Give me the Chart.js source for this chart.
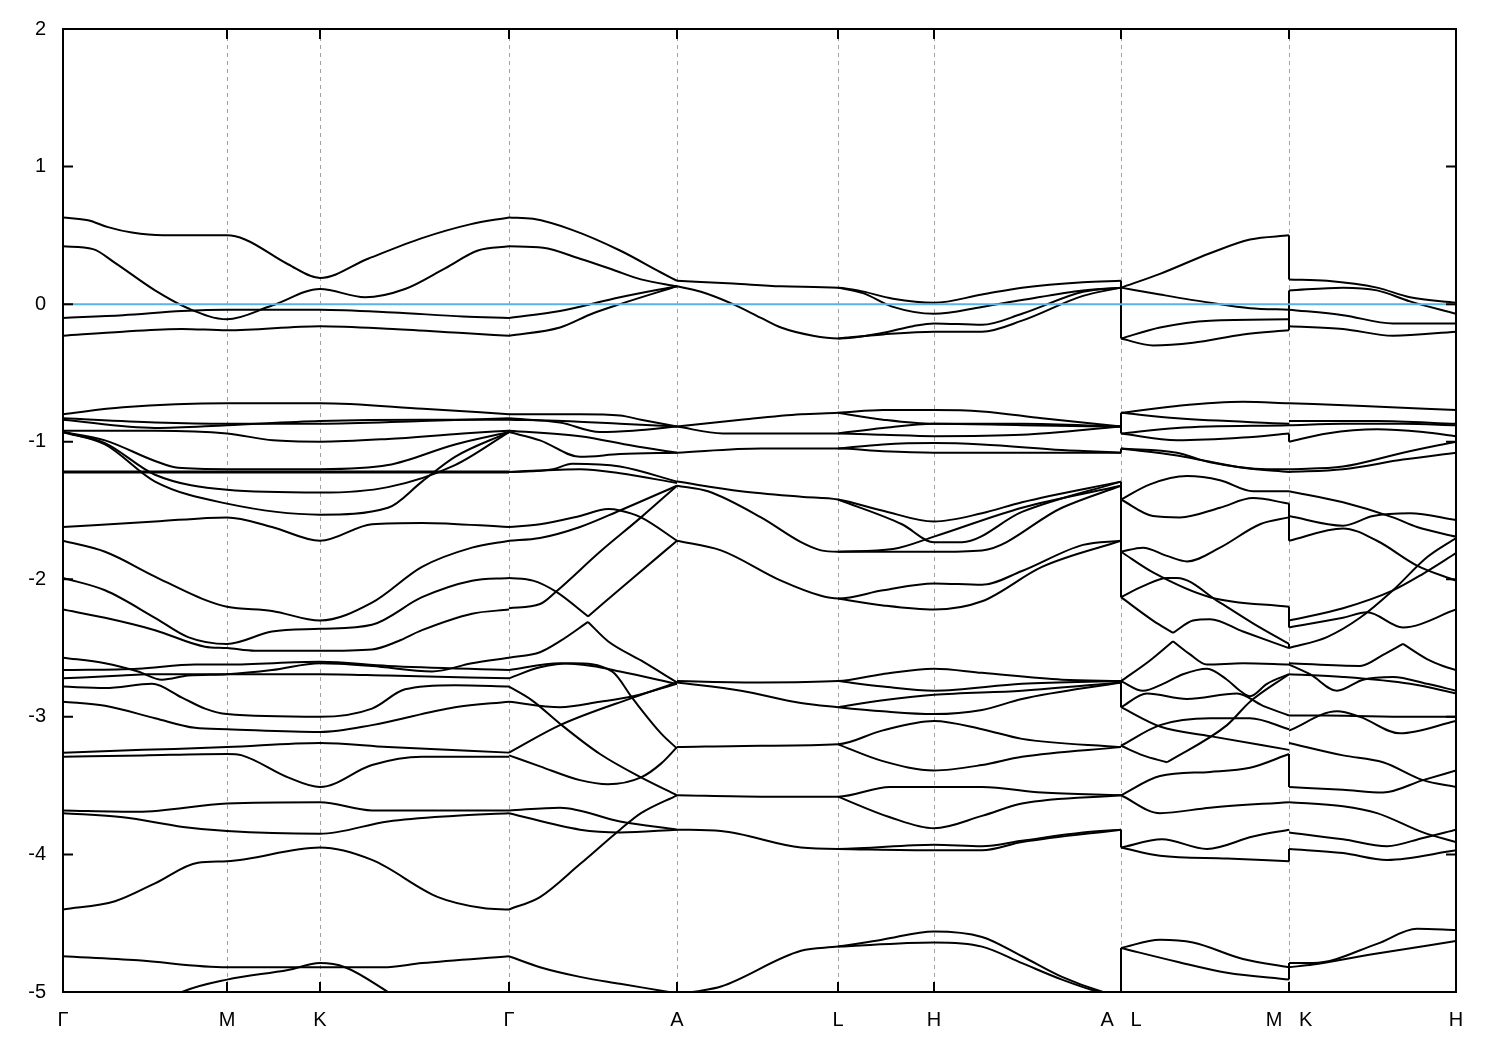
<!DOCTYPE html>
<html>
<head>
<meta charset="utf-8">
<title>Band structure</title>
<script src="https://cdn.jsdelivr.net/npm/chart.js@4.4.0/dist/chart.umd.min.js"></script>
<style>
  body { margin: 0; background: #fff; }
  canvas { display: block; }
</style>
</head>
<body>
<canvas id="bands" width="1500" height="1050"></canvas>
<script>
// k-path: high-symmetry points and their labels
const kNodes = [0, 1.64, 2.57, 4.46, 6.14, 7.75, 8.71, 10.58, 12.26, 13.93];
const kLabels = ['Γ', 'M', 'K', 'Γ', 'A', 'L', 'H', 'A   L', 'M   K', 'H'];
const yTicks = [-5, -4, -3, -2, -1, 0, 1, 2];
const fermiLevel = 0;

// Γ - M - K - Γ
const bandsGMKG = [
  [[0,0.63],[0.25,0.61],[0.45,0.56],[0.69,0.52],[1.0,0.50],[1.64,0.50],[1.82,0.47],[2.25,0.29],[2.57,0.19],[3.05,0.33],[3.59,0.48],[4.07,0.58],[4.46,0.63]],
  [[0,0.42],[0.3,0.40],[0.52,0.30],[0.92,0.10],[1.25,-0.03],[1.64,-0.11],[2.09,-0.01],[2.57,0.11],[3.02,0.05],[3.42,0.11],[3.82,0.26],[4.15,0.39],[4.46,0.42]],
  [[0,-0.10],[0.6,-0.08],[1.19,-0.05],[1.64,-0.04],[2.57,-0.04],[3.3,-0.06],[4.0,-0.09],[4.46,-0.10]],
  [[0,-0.23],[0.6,-0.20],[1.19,-0.18],[1.64,-0.19],[2.57,-0.16],[3.3,-0.18],[4.0,-0.21],[4.46,-0.23]],
  [[0,-0.80],[0.6,-0.75],[1.64,-0.72],[2.57,-0.72],[3.6,-0.76],[4.46,-0.80]],
  [[0,-0.83],[0.92,-0.86],[1.64,-0.87],[2.57,-0.87],[3.59,-0.85],[4.46,-0.83]],
  [[0,-0.84],[0.92,-0.90],[1.64,-0.88],[2.57,-0.85],[3.59,-0.84],[4.46,-0.84]],
  [[0,-0.92],[0.92,-0.92],[1.64,-0.94],[2.1,-0.99],[2.57,-1.00],[3.25,-0.98],[4.0,-0.94],[4.46,-0.92]],
  [[0,-0.93],[0.42,-0.99],[0.92,-1.14],[1.15,-1.19],[1.64,-1.20],[2.57,-1.20],[3.25,-1.17],[3.92,-1.02],[4.46,-0.93]],
  [[0,-0.93],[0.42,-1.01],[0.92,-1.24],[1.64,-1.35],[2.57,-1.37],[3.25,-1.33],[3.92,-1.17],[4.46,-0.93]],
  [[0,-0.93],[0.42,-1.02],[0.92,-1.29],[1.64,-1.45],[2.57,-1.53],[3.25,-1.48],[3.59,-1.29],[3.92,-1.11],[4.46,-0.93]],
  [[0,-1.216],[4.46,-1.216]],
  [[0,-1.224],[4.46,-1.224]],
  [[0,-1.62],[0.92,-1.58],[1.64,-1.55],[2.09,-1.62],[2.57,-1.72],[3.09,-1.60],[3.59,-1.59],[4.46,-1.62]],
  [[0,-1.72],[0.42,-1.80],[0.92,-1.98],[1.42,-2.15],[1.64,-2.20],[2.09,-2.23],[2.57,-2.30],[3.09,-2.17],[3.59,-1.91],[4.09,-1.77],[4.46,-1.72]],
  [[0,-1.99],[0.42,-2.08],[0.92,-2.28],[1.25,-2.42],[1.64,-2.47],[2.09,-2.38],[2.57,-2.36],[3.09,-2.33],[3.59,-2.13],[4.09,-2.01],[4.46,-1.99]],
  [[0,-2.22],[0.42,-2.28],[0.92,-2.37],[1.42,-2.49],[1.64,-2.50],[1.92,-2.52],[2.57,-2.52],[3.09,-2.51],[3.35,-2.45],[3.59,-2.37],[4.09,-2.25],[4.46,-2.22]],
  [[0,-2.57],[0.42,-2.61],[0.75,-2.67],[0.99,-2.73],[1.25,-2.70],[1.64,-2.69],[2.09,-2.66],[2.57,-2.61],[3.09,-2.63],[3.69,-2.67],[4.09,-2.61],[4.46,-2.57]],
  [[0,-2.66],[0.75,-2.65],[1.32,-2.62],[1.64,-2.62],[2.57,-2.60],[3.25,-2.63],[4.46,-2.66]],
  [[0,-2.72],[0.59,-2.70],[0.85,-2.69],[1.64,-2.69],[2.57,-2.69],[3.25,-2.70],[4.46,-2.72]],
  [[0,-2.78],[0.42,-2.79],[0.89,-2.76],[1.19,-2.86],[1.42,-2.94],[1.64,-2.98],[2.57,-3.00],[3.09,-2.94],[3.42,-2.80],[3.92,-2.77],[4.46,-2.78]],
  [[0,-2.89],[0.42,-2.92],[0.92,-3.01],[1.32,-3.08],[1.64,-3.09],[2.57,-3.11],[3.09,-3.06],[3.92,-2.93],[4.46,-2.89]],
  [[0,-3.26],[0.8,-3.24],[1.64,-3.22],[2.57,-3.19],[3.25,-3.22],[4.46,-3.26]],
  [[0,-3.29],[0.8,-3.28],[1.64,-3.27],[1.79,-3.28],[2.25,-3.44],[2.57,-3.51],[3.09,-3.35],[3.59,-3.29],[4.46,-3.29]],
  [[0,-3.68],[0.75,-3.69],[1.64,-3.63],[2.57,-3.62],[3.09,-3.68],[4.46,-3.68]],
  [[0,-3.70],[0.6,-3.73],[1.2,-3.80],[1.64,-3.83],[2.57,-3.85],[3.25,-3.76],[3.9,-3.72],[4.46,-3.70]],
  [[0,-4.40],[0.52,-4.34],[0.92,-4.21],[1.35,-4.06],[1.64,-4.05],[2.57,-3.95],[3.09,-4.04],[3.75,-4.31],[4.2,-4.39],[4.46,-4.40]],
  [[0,-4.74],[0.75,-4.77],[1.64,-4.82],[2.57,-4.82],[3.2,-4.82],[3.59,-4.79],[4.46,-4.74]],
  [[1.0,-5.08],[1.19,-5.0],[1.64,-4.91],[2.25,-4.84],[2.57,-4.79],[2.82,-4.82],[3.25,-5.0],[3.4,-5.07]]
];

// Γ - A
const bandsGA = [
  [[4.46,0.63],[4.7,0.62],[5.09,0.54],[5.57,0.39],[5.98,0.23],[6.14,0.17]],
  [[4.46,0.42],[4.8,0.41],[5.17,0.33],[5.5,0.25],[5.78,0.18],[6.14,0.13]],
  [[4.46,-0.10],[4.97,-0.05],[5.57,0.05],[6.14,0.13]],
  [[4.46,-0.23],[4.97,-0.17],[5.29,-0.07],[5.57,0.0],[6.14,0.13]],
  [[4.46,-0.80],[5.17,-0.80],[5.57,-0.81],[5.78,-0.84],[6.14,-0.89]],
  [[4.46,-0.83],[4.97,-0.86],[5.37,-0.93],[5.7,-0.92],[6.14,-0.89]],
  [[4.46,-0.84],[5.0,-0.85],[5.57,-0.87],[6.14,-0.89]],
  [[4.46,-0.92],[5.17,-0.96],[5.7,-1.03],[6.14,-1.08]],
  [[4.46,-0.93],[4.77,-0.99],[5.17,-1.11],[5.57,-1.09],[6.14,-1.08]],
  [[4.46,-1.22],[4.9,-1.20],[5.09,-1.16],[5.57,-1.18],[6.14,-1.29]],
  [[4.46,-1.22],[5.17,-1.20],[5.57,-1.23],[6.14,-1.30]],
  [[4.46,-1.62],[4.77,-1.60],[5.17,-1.54],[5.45,-1.49],[5.57,-1.50],[5.78,-1.55],[6.14,-1.72]],
  [[4.46,-1.72],[4.77,-1.70],[5.17,-1.62],[5.57,-1.50],[6.14,-1.32]],
  [[4.46,-1.99],[4.7,-2.01],[4.93,-2.09],[5.25,-2.27]],
  [[5.25,-2.27],[5.7,-1.99],[6.14,-1.72]],
  [[4.46,-2.21],[4.77,-2.18],[4.93,-2.09],[5.37,-1.80],[5.78,-1.55],[6.14,-1.32]],
  [[4.46,-2.57],[4.77,-2.53],[4.97,-2.45],[5.25,-2.31]],
  [[5.25,-2.31],[5.45,-2.45],[5.78,-2.59],[6.14,-2.75]],
  [[4.46,-2.66],[4.97,-2.61],[5.29,-2.63],[5.57,-2.67],[6.14,-2.76]],
  [[4.46,-2.72],[4.77,-2.64],[5.09,-2.61],[5.49,-2.67],[5.70,-2.87],[5.98,-3.12],[6.14,-3.23]],
  [[4.46,-2.78],[4.69,-2.88],[4.97,-3.05],[5.37,-3.27],[5.78,-3.44],[6.14,-3.57]],
  [[4.46,-2.89],[4.97,-2.93],[5.37,-2.89],[5.70,-2.85],[6.14,-2.76]],
  [[4.46,-3.26],[4.97,-3.06],[5.70,-2.86],[6.14,-2.75]],
  [[4.46,-3.28],[4.77,-3.36],[5.17,-3.46],[5.45,-3.49],[5.78,-3.44],[5.98,-3.34],[6.14,-3.22]],
  [[4.46,-3.68],[4.97,-3.66],[5.57,-3.76],[6.14,-3.82]],
  [[4.46,-3.70],[5.17,-3.82],[5.57,-3.84],[6.14,-3.82]],
  [[4.46,-4.40],[4.77,-4.31],[5.17,-4.07],[5.57,-3.82],[5.78,-3.70],[6.14,-3.57]],
  [[4.46,-4.74],[4.77,-4.82],[5.17,-4.89],[5.57,-4.94],[6.06,-5.0],[6.14,-5.01]]
];

// A - L - H - A
const bandsALHA = [
  [[6.14,0.17],[6.70,0.15],[7.18,0.13],[7.75,0.12],[7.95,0.10],[8.3,0.04],[8.71,0.01],[9.19,0.07],[9.59,0.12],[10.2,0.16],[10.58,0.17]],
  [[7.75,0.12],[8.0,0.08],[8.3,-0.02],[8.71,-0.07],[9.19,-0.02],[9.59,0.03],[10.2,0.10],[10.58,0.12]],
  [[6.14,0.13],[6.38,0.09],[6.70,0.0],[6.98,-0.10],[7.18,-0.17],[7.5,-0.23],[7.75,-0.25],[8.19,-0.21],[8.5,-0.16],[8.71,-0.14],[9.19,-0.15],[9.59,-0.07],[10.2,0.09],[10.58,0.12]],
  [[7.75,-0.25],[8.2,-0.22],[8.71,-0.20],[9.19,-0.20],[9.59,-0.12],[10.2,0.06],[10.58,0.12]],
  [[6.14,-0.89],[6.78,-0.84],[7.38,-0.80],[7.75,-0.79],[8.2,-0.77],[8.71,-0.77],[9.19,-0.78],[9.79,-0.83],[10.58,-0.89]],
  [[7.75,-0.79],[8.2,-0.84],[8.71,-0.87],[9.59,-0.87],[10.58,-0.89]],
  [[6.14,-0.89],[6.6,-0.94],[7.75,-0.94],[8.2,-0.95],[8.71,-0.96],[9.59,-0.95],[10.58,-0.89]],
  [[7.75,-0.94],[8.2,-0.90],[8.71,-0.87],[9.59,-0.88],[10.58,-0.89]],
  [[6.14,-1.08],[6.98,-1.05],[7.75,-1.05],[8.2,-1.07],[8.71,-1.08],[9.6,-1.08],[10.58,-1.08]],
  [[7.75,-1.05],[8.2,-1.02],[8.71,-1.01],[9.19,-1.02],[9.99,-1.06],[10.58,-1.08]],
  [[6.14,-1.29],[6.78,-1.36],[7.38,-1.40],[7.75,-1.42],[8.19,-1.50],[8.71,-1.58],[9.19,-1.52],[9.59,-1.44],[10.58,-1.29]],
  [[7.75,-1.42],[8.39,-1.60],[8.71,-1.73],[8.99,-1.73],[9.59,-1.51],[10.58,-1.29]],
  [[6.14,-1.32],[6.45,-1.36],[6.98,-1.55],[7.38,-1.73],[7.58,-1.79],[7.75,-1.80],[8.71,-1.80],[9.19,-1.79],[9.99,-1.48],[10.58,-1.32]],
  [[7.75,-1.80],[8.3,-1.78],[8.71,-1.69],[9.59,-1.48],[10.58,-1.32]],
  [[6.14,-1.72],[6.58,-1.79],[7.18,-2.01],[7.58,-2.12],[7.75,-2.14],[8.2,-2.08],[8.71,-2.03],[9.19,-2.04],[9.59,-1.94],[10.2,-1.75],[10.58,-1.72]],
  [[7.75,-2.14],[8.2,-2.19],[8.71,-2.22],[9.19,-2.16],[9.79,-1.91],[10.58,-1.72]],
  [[6.14,-2.74],[6.98,-2.75],[7.75,-2.74],[8.19,-2.69],[8.71,-2.65],[9.19,-2.68],[9.99,-2.73],[10.58,-2.74]],
  [[7.75,-2.74],[8.2,-2.78],[8.71,-2.81],[9.59,-2.76],[10.58,-2.74]],
  [[6.14,-2.75],[6.78,-2.81],[7.38,-2.90],[7.75,-2.93],[8.2,-2.96],[8.71,-2.98],[9.19,-2.95],[9.59,-2.87],[10.58,-2.75]],
  [[7.75,-2.93],[8.2,-2.88],[8.71,-2.84],[9.59,-2.81],[10.58,-2.75]],
  [[6.14,-3.22],[6.98,-3.21],[7.75,-3.20],[8.19,-3.10],[8.71,-3.03],[9.19,-3.09],[9.59,-3.16],[10.58,-3.22]],
  [[7.75,-3.20],[8.19,-3.32],[8.71,-3.39],[9.19,-3.35],[9.59,-3.29],[10.58,-3.22]],
  [[6.14,-3.57],[6.98,-3.58],[7.75,-3.58],[8.27,-3.51],[8.71,-3.51],[9.19,-3.51],[9.79,-3.55],[10.58,-3.57]],
  [[7.75,-3.58],[8.27,-3.73],[8.71,-3.81],[9.19,-3.72],[9.59,-3.63],[10.58,-3.57]],
  [[6.14,-3.82],[6.58,-3.83],[7.38,-3.95],[7.75,-3.96],[8.71,-3.93],[9.19,-3.94],[9.59,-3.90],[10.2,-3.84],[10.58,-3.82]],
  [[7.75,-3.96],[8.71,-3.97],[9.19,-3.97],[9.59,-3.91],[10.58,-3.82]],
  [[6.14,-5.01],[6.38,-4.99],[6.58,-4.96],[7.38,-4.70],[7.75,-4.67],[8.19,-4.62],[8.71,-4.56],[9.19,-4.60],[9.59,-4.74],[9.99,-4.89],[10.4,-5.0],[10.58,-5.03]],
  [[7.75,-4.67],[8.71,-4.64],[9.19,-4.67],[9.59,-4.79],[9.99,-4.91],[10.36,-5.0],[10.58,-5.03]]
];

// L - M
const bandsLM = [
  [[10.58,0.12],[10.97,0.22],[11.47,0.37],[11.87,0.47],[12.26,0.50]],
  [[10.58,0.12],[10.97,0.07],[11.47,0.01],[11.87,-0.03],[12.26,-0.04]],
  [[10.58,-0.25],[10.97,-0.17],[11.47,-0.12],[12.26,-0.11]],
  [[10.58,-0.25],[10.90,-0.30],[11.30,-0.28],[11.80,-0.22],[12.26,-0.19]],
  [[10.58,-0.79],[11.14,-0.74],[11.8,-0.71],[12.26,-0.72]],
  [[10.58,-0.79],[11.14,-0.83],[12.26,-0.87]],
  [[10.58,-0.94],[11.14,-0.90],[12.26,-0.88]],
  [[10.58,-0.94],[11.14,-0.99],[11.8,-0.97],[12.26,-0.94]],
  [[10.58,-1.05],[11.14,-1.08],[11.47,-1.15],[12.04,-1.20],[12.26,-1.20]],
  [[10.58,-1.05],[11.14,-1.10],[11.8,-1.19],[12.26,-1.22]],
  [[10.58,-1.42],[10.87,-1.31],[11.24,-1.25],[11.57,-1.28],[11.9,-1.36],[12.26,-1.36]],
  [[10.58,-1.42],[10.9,-1.54],[11.17,-1.55],[11.57,-1.48],[11.9,-1.41],[12.26,-1.45]],
  [[10.58,-1.80],[10.80,-1.77],[11.04,-1.83],[11.24,-1.87],[11.57,-1.77],[11.97,-1.60],[12.26,-1.55]],
  [[10.58,-1.80],[10.90,-1.95],[11.47,-2.13],[12.26,-2.20]],
  [[10.58,-2.13],[10.80,-2.05],[11.04,-1.99],[11.14,-1.99],[11.57,-2.17],[11.9,-2.32],[12.26,-2.47]],
  [[10.58,-2.13],[10.9,-2.30],[11.10,-2.39]],
  [[11.10,-2.39],[11.30,-2.30],[11.47,-2.29],[11.8,-2.38],[12.26,-2.50]],
  [[10.58,-2.74],[10.87,-2.59],[11.10,-2.45]],
  [[11.10,-2.45],[11.26,-2.54],[11.44,-2.62],[11.8,-2.61],[12.26,-2.62]],
  [[10.58,-2.74],[10.80,-2.81],[11.0,-2.76],[11.20,-2.69],[11.44,-2.65],[11.64,-2.73],[11.77,-2.81],[11.87,-2.85],[12.04,-2.76],[12.26,-2.69]],
  [[10.58,-2.93],[10.84,-2.83],[11.24,-2.87],[11.74,-2.83],[12.0,-2.92],[12.26,-2.99]],
  [[10.58,-2.93],[10.97,-3.07],[11.47,-3.14],[12.26,-3.24]],
  [[10.58,-3.21],[10.80,-3.28],[11.04,-3.33]],
  [[11.04,-3.33],[11.64,-3.06],[11.87,-2.89],[12.26,-2.69]],
  [[10.58,-3.21],[10.97,-3.06],[11.47,-3.01],[11.87,-3.01],[12.26,-3.09]],
  [[10.58,-3.57],[10.97,-3.43],[11.47,-3.40],[11.87,-3.37],[12.26,-3.27]],
  [[10.58,-3.57],[10.97,-3.70],[11.47,-3.66],[12.26,-3.62]],
  [[10.58,-3.95],[10.99,-3.89],[11.44,-3.96],[11.90,-3.87],[12.26,-3.82]],
  [[10.58,-3.95],[10.97,-4.01],[11.64,-4.03],[12.26,-4.05]],
  [[10.58,-4.68],[10.97,-4.62],[11.30,-4.64],[11.80,-4.76],[12.26,-4.82]],
  [[10.58,-4.68],[11.14,-4.78],[11.64,-4.86],[12.26,-4.91]]
];

// K - H
const bandsKH = [
  [[12.26,0.18],[12.64,0.17],[13.14,0.12],[13.47,0.05],[13.93,0.01]],
  [[12.26,0.10],[12.8,0.12],[13.14,0.10],[13.47,0.02],[13.93,-0.07]],
  [[12.26,-0.04],[12.8,-0.08],[13.30,-0.14],[13.93,-0.14]],
  [[12.26,-0.16],[12.8,-0.18],[13.30,-0.23],[13.93,-0.20]],
  [[12.26,-0.72],[13.0,-0.74],[13.93,-0.77]],
  [[12.26,-0.85],[13.14,-0.85],[13.93,-0.87]],
  [[12.26,-0.88],[12.8,-0.87],[13.4,-0.87],[13.93,-0.88]],
  [[12.26,-1.00],[12.64,-0.94],[13.14,-0.91],[13.6,-0.93],[13.93,-0.96]],
  [[12.26,-1.20],[12.8,-1.18],[13.4,-1.08],[13.93,-1.00]],
  [[12.26,-1.22],[12.8,-1.20],[13.4,-1.13],[13.93,-1.08]],
  [[12.26,-1.36],[12.8,-1.44],[13.3,-1.55],[13.54,-1.62],[13.93,-1.69]],
  [[12.26,-1.54],[12.8,-1.61],[13.1,-1.54],[13.47,-1.52],[13.93,-1.57]],
  [[12.26,-1.72],[12.8,-1.63],[13.14,-1.72],[13.54,-1.90],[13.93,-2.01]],
  [[12.26,-2.30],[12.8,-2.21],[13.30,-2.08],[13.6,-1.96],[13.93,-1.81]],
  [[12.26,-2.35],[12.8,-2.28],[13.04,-2.24],[13.40,-2.35],[13.93,-2.22]],
  [[12.26,-2.50],[12.64,-2.42],[12.97,-2.28],[13.30,-2.08],[13.64,-1.84],[13.93,-1.70]],
  [[12.26,-2.61],[12.97,-2.63],[13.20,-2.55],[13.40,-2.47]],
  [[13.40,-2.47],[13.64,-2.58],[13.80,-2.63],[13.93,-2.66]],
  [[12.26,-2.62],[12.47,-2.69],[12.74,-2.81],[13.0,-2.73],[13.3,-2.71],[13.64,-2.76],[13.93,-2.81]],
  [[12.26,-2.69],[12.8,-2.71],[13.47,-2.76],[13.93,-2.83]],
  [[12.26,-2.99],[12.64,-2.99],[13.47,-3.00],[13.93,-3.00]],
  [[12.26,-3.10],[12.74,-2.96],[12.97,-3.00],[13.37,-3.12],[13.93,-3.03]],
  [[12.26,-3.19],[12.80,-3.28],[13.20,-3.33],[13.60,-3.46],[13.93,-3.51]],
  [[12.26,-3.51],[12.80,-3.53],[13.20,-3.55],[13.60,-3.46],[13.93,-3.39]],
  [[12.26,-3.62],[12.80,-3.65],[13.14,-3.70],[13.60,-3.84],[13.93,-3.91]],
  [[12.26,-3.84],[12.80,-3.89],[13.24,-3.94],[13.60,-3.88],[13.93,-3.82]],
  [[12.26,-3.96],[12.8,-3.99],[13.24,-4.04],[13.93,-3.97]],
  [[12.26,-4.79],[12.5,-4.79],[13.14,-4.65],[13.54,-4.54],[13.93,-4.55]],
  [[12.26,-4.82],[12.5,-4.80],[13.14,-4.72],[13.93,-4.63]]
];

// vertical jumps where the path is discontinuous (energy before, energy after)
const jumpsAL = [[0.17,-0.25],[-0.79,-0.94],[-1.05,-1.08],[-1.29,-2.13],[-2.74,-2.93],[-3.21,-3.22],[-3.82,-3.95],[-4.68,-5.03]];
const jumpsMK = [[0.50,0.18],[0.10,-0.19],[-0.94,-1.00],[-1.45,-1.72],[-2.20,-2.35],[-2.47,-2.50],[-3.27,-3.51],[-3.96,-4.05],[-4.79,-4.91]];

// Build a smooth band line
function bandDataset(points) {
  return {
    data: points.map(([x, y]) => ({ x, y })),
    borderColor: '#000',
    borderWidth: 2,
    pointRadius: 0,
    fill: false,
    cubicInterpolationMode: 'monotone'
  };
}

// Build a vertical connector at a path break
function jumpDataset(k, pair) {
  return {
    data: [{ x: k, y: pair[0] }, { x: k, y: pair[1] }],
    borderColor: '#000',
    borderWidth: 2,
    pointRadius: 0,
    fill: false,
    tension: 0
  };
}

// Frame, inward tick marks and dashed k-point lines
const framePlugin = {
  id: 'frame',
  beforeDatasetsDraw(chart) {
    const { ctx, chartArea: a, scales: { x } } = chart;
    ctx.save();
    ctx.strokeStyle = '#a0a0a0';
    ctx.lineWidth = 1;
    ctx.setLineDash([4, 4]);
    kNodes.slice(1, -1).forEach(v => {
      const px = Math.round(x.getPixelForValue(v)) + 0.5;
      ctx.beginPath();
      ctx.moveTo(px, a.top);
      ctx.lineTo(px, a.bottom);
      ctx.stroke();
    });
    ctx.restore();
  },
  afterDraw(chart) {
    const { ctx, chartArea: a, scales: { x, y } } = chart;
    ctx.save();
    ctx.strokeStyle = '#000';
    ctx.lineWidth = 2;
    ctx.strokeRect(a.left, a.top, a.right - a.left, a.bottom - a.top);
    ctx.beginPath();
    yTicks.forEach(v => {
      const py = y.getPixelForValue(v);
      ctx.moveTo(a.left, py); ctx.lineTo(a.left + 10, py);
      ctx.moveTo(a.right, py); ctx.lineTo(a.right - 10, py);
    });
    kNodes.forEach(v => {
      const px = x.getPixelForValue(v);
      ctx.moveTo(px, a.bottom); ctx.lineTo(px, a.bottom - 10);
      ctx.moveTo(px, a.top); ctx.lineTo(px, a.top + 10);
    });
    ctx.stroke();
    ctx.restore();
  }
};

function initChart() {
  const allBands = [].concat(bandsGMKG, bandsGA, bandsALHA, bandsLM, bandsKH);
  const datasets = [];

  // Fermi level on top
  datasets.push({
    data: [{ x: kNodes[0], y: fermiLevel }, { x: kNodes[kNodes.length - 1], y: fermiLevel }],
    borderColor: '#56b4e9',
    borderWidth: 2,
    pointRadius: 0,
    fill: false,
    order: -1
  });

  allBands.forEach(b => datasets.push(bandDataset(b)));
  jumpsAL.forEach(p => datasets.push(jumpDataset(kNodes[7], p)));
  jumpsMK.forEach(p => datasets.push(jumpDataset(kNodes[8], p)));

  Chart.defaults.font.family = "'Liberation Sans', Arial, sans-serif";

  new Chart(document.getElementById('bands').getContext('2d'), {
    type: 'line',
    data: { datasets },
    options: {
      responsive: false,
      animation: false,
      devicePixelRatio: 1,
      layout: { padding: { top: 28, right: 44, left: 0, bottom: 0 } },
      plugins: { legend: { display: false }, tooltip: { enabled: false } },
      scales: {
        x: {
          type: 'linear',
          min: kNodes[0],
          max: kNodes[kNodes.length - 1],
          grid: { display: false, drawTicks: false },
          border: { display: false },
          afterBuildTicks: scale => { scale.ticks = kNodes.map(v => ({ value: v })); },
          afterFit: scale => { scale.height = 58; },
          ticks: {
            autoSkip: false,
            maxRotation: 0,
            padding: 16,
            color: '#000',
            font: { size: 20 },
            callback: (value, index) => kLabels[index]
          }
        },
        y: {
          min: -5,
          max: 2,
          grid: { display: false, drawTicks: false },
          border: { display: false },
          afterBuildTicks: scale => { scale.ticks = yTicks.map(v => ({ value: v })); },
          afterFit: scale => { scale.width = 63; },
          ticks: {
            padding: 17,
            color: '#000',
            font: { size: 20 },
            callback: value => String(value)
          }
        }
      }
    },
    plugins: [framePlugin]
  });
}

document.addEventListener('DOMContentLoaded', initChart);
</script>
</body>
</html>
